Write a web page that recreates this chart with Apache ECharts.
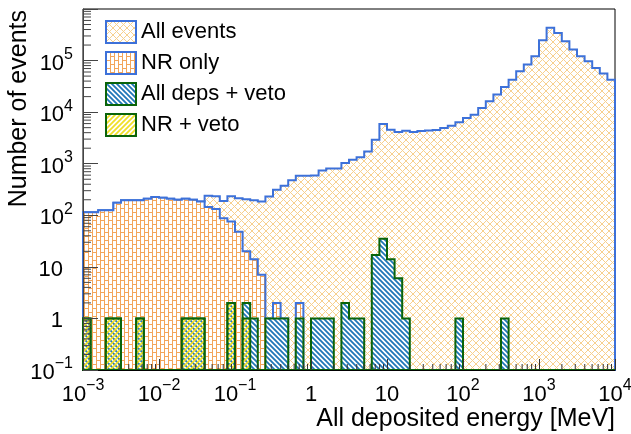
<!DOCTYPE html>
<html>
<head>
<meta charset="utf-8">
<title>Deposited energy</title>
<script src="https://cdn.jsdelivr.net/npm/echarts@6/dist/echarts.min.js"></script>
<style>
  html, body { margin: 0; padding: 0; background: #fff; }
  #chart { width: 631px; height: 434px; }
</style>
</head>
<body>
<div id="chart"></div>
<script>
// Histogram binning: 10 log bins per decade, 1e-3 .. 1e4 MeV
var logEmin = -3;
var binsPerDecade = 10;
var nBins = 70;

// Bin contents, one value per bin
var allEvents = [
  115, 115, 125, 125, 175, 195, 195, 195, 210, 225,
  220, 210, 200, 210, 200, 185, 240, 235, 190, 235,
  215, 205, 195, 185, 232, 312, 374, 480, 585, 585,
  590, 741, 805, 810, 1030, 1196, 1330, 1734, 2924, 5900,
  4570, 4120, 4370, 4120, 4300, 4400, 4500, 4930, 5470, 6340,
  7710, 8940, 12000, 16200, 21900, 30800, 42700, 62000, 83500, 121000,
  248000, 431000, 344000, 237000, 164000, 121000, 97000, 72100, 56000, 42700
];
var nrOnly = [
  115, 115, 125, 125, 175, 195, 195, 195, 210, 225,
  220, 210, 200, 210, 200, 185, 144, 132, 88, 76,
  48, 20, 14, 7, 1, 2, 1, 0, 2, 0,
  0, 0, 0, 0, 0, 0, 0, 0, 0, 0,
  0, 0, 0, 0, 0, 0, 0, 0, 0, 0,
  0, 0, 0, 0, 0, 0, 0, 0, 0, 0,
  0, 0, 0, 0, 0, 0, 0, 0, 0, 0
];
var allDepsVeto = [
  1, 0, 0, 1, 1, 0, 0, 1, 0, 0,
  0, 0, 0, 1, 1, 1, 0, 0, 0, 2,
  0, 2, 1, 0, 1, 1, 1, 0, 1, 0,
  1, 1, 1, 0, 2, 1, 1, 0, 17, 35,
  14, 6, 1, 0, 0, 0, 0, 0, 0, 1,
  0, 0, 0, 0, 0, 1, 0, 0, 0, 0,
  0, 0, 0, 0, 0, 0, 0, 0, 0, 0
];
var nrVeto = [
  1, 0, 0, 1, 1, 0, 0, 1, 0, 0,
  0, 0, 0, 1, 1, 1, 0, 0, 0, 2,
  0, 1, 0, 0, 0, 0, 0, 0, 0, 0,
  0, 0, 0, 0, 0, 0, 0, 0, 0, 0,
  0, 0, 0, 0, 0, 0, 0, 0, 0, 0,
  0, 0, 0, 0, 0, 0, 0, 0, 0, 0,
  0, 0, 0, 0, 0, 0, 0, 0, 0, 0
];
var seriesNames = ['All events', 'NR only', 'All deps + veto', 'NR + veto'];

// axis ranges
var xMin = 1e-3, xMax = 1e4;
var yMin = 0.1, yMax = 1e6;

var binEdges = [];
for (var i = 0; i <= nBins; i++) {
  binEdges.push(Math.pow(10, logEmin + i / binsPerDecade));
}

// minor tick positions (2..9 x 10^k)
var xMinorTicks = [], yMinorTicks = [];
for (var k = -3; k < 4; k++) {
  for (var m = 2; m <= 9; m++) xMinorTicks.push([m * Math.pow(10, k), yMin]);
}
for (var k2 = -1; k2 < 6; k2++) {
  for (var m2 = 2; m2 <= 9; m2++) yMinorTicks.push([xMin, m2 * Math.pow(10, k2)]);
}

var FONT = '"Liberation Sans", Arial, Helvetica, sans-serif';
var BLUE_LINE = '#3d71d9';
var GREEN_LINE = '#0a640a';

// build a repeating fill pattern from a small canvas tile
function makePattern(w, h, bg, draw) {
  var c = document.createElement('canvas');
  c.width = w;
  c.height = h;
  var ctx = c.getContext('2d');
  if (bg) {
    ctx.fillStyle = bg;
    ctx.fillRect(0, 0, w, h);
  }
  draw(ctx, w, h);
  return { image: c, repeat: 'repeat' };
}

var crossFill = makePattern(7, 7, null, function (ctx, w, h) {
  ctx.strokeStyle = '#f7d08e';
  ctx.lineWidth = 1;
  ctx.beginPath();
  ctx.moveTo(0, 0); ctx.lineTo(w, h);
  ctx.moveTo(w, 0); ctx.lineTo(0, h);
  ctx.stroke();
});

var brickFill = makePattern(8, 8, '#ffffff', function (ctx) {
  ctx.strokeStyle = '#f3a55a';
  ctx.lineWidth = 1;
  ctx.beginPath();
  ctx.moveTo(0.5, 0); ctx.lineTo(0.5, 8);
  ctx.moveTo(4.5, 0); ctx.lineTo(4.5, 8);
  ctx.moveTo(0, 0.5); ctx.lineTo(4.5, 0.5);
  ctx.moveTo(4.5, 4.5); ctx.lineTo(8, 4.5);
  ctx.stroke();
});

var blueStripeFill = makePattern(5, 5, '#ffffff', function (ctx, w) {
  ctx.strokeStyle = '#2077b8';
  ctx.lineWidth = 1.8;
  ctx.beginPath();
  [-w, 0, w].forEach(function (c) {
    ctx.moveTo(-1, -1 + c); ctx.lineTo(w + 1, w + 1 + c);
  });
  ctx.stroke();
});

var yellowStripeFill = makePattern(5, 5, null, function (ctx, w) {
  ctx.strokeStyle = '#f0df2a';
  ctx.lineWidth = 1.8;
  ctx.beginPath();
  [0, w, 2 * w].forEach(function (c) {
    ctx.moveTo(-1, c + 1); ctx.lineTo(w + 1, c - w - 1);
  });
  ctx.stroke();
});

// step histogram outline + fill, every corner placed through the axes
function histRenderer(values, fill, stroke) {
  return function (params, api) {
    var pts = [];
    pts.push(api.coord([binEdges[0], yMin]));
    for (var b = 0; b < values.length; b++) {
      var v = Math.max(values[b], yMin);
      pts.push(api.coord([binEdges[b], v]));
      pts.push(api.coord([binEdges[b + 1], v]));
    }
    pts.push(api.coord([binEdges[values.length], yMin]));
    return {
      type: 'polygon',
      shape: { points: pts },
      style: { fill: fill, stroke: stroke, lineWidth: 2, lineJoin: 'miter' }
    };
  };
}

function histSeries(name, values, fill, stroke) {
  return {
    name: name,
    type: 'custom',
    silent: true,
    data: [[binEdges[0], yMin]],
    itemStyle: { color: fill, borderColor: stroke, borderWidth: 2 },
    renderItem: histRenderer(values, fill, stroke)
  };
}

function powLabel(v, isY) {
  var e = Math.round(Math.log10(v));
  if (isY && e >= 6) return '';
  if (e === 0) return isY ? '{b|1}{sp|}' : '{b|1}';
  if (e === 1) return isY ? '{b|10}{sp|}' : '{b|10}';
  return '{b|10}{s|' + (e < 0 ? '\u2212' : '') + Math.abs(e) + '}';
}

var labelRich = {
  b: { fontSize: 22, fontFamily: FONT, color: '#000', lineHeight: 28, verticalAlign: 'bottom' },
  s: { fontSize: 16, fontFamily: FONT, color: '#000', lineHeight: 16, verticalAlign: 'top' },
  sp: { width: 10 }
};

var dom = document.getElementById('chart');
var myChart = echarts.init(dom, null, { renderer: 'canvas' });

var option = {
  animation: false,
  backgroundColor: '#fff',
  grid: {
    left: 83, right: 16, top: 9, bottom: 64,
    show: true, borderColor: '#000', borderWidth: 1,
    backgroundColor: 'transparent',
    outerBoundsMode: 'none',
    containLabel: false
  },
  legend: {
    orient: 'vertical',
    left: 105, top: 20,
    padding: 0,
    itemWidth: 30, itemHeight: 22, itemGap: 7,
    icon: 'rect',
    selectedMode: false,
    textStyle: { fontSize: 22, fontFamily: FONT, color: '#000' },
    data: [
      { name: seriesNames[0], itemStyle: { color: crossFill, borderColor: BLUE_LINE, borderWidth: 2 } },
      { name: seriesNames[1], itemStyle: { color: brickFill, borderColor: BLUE_LINE, borderWidth: 2 } },
      { name: seriesNames[2], itemStyle: { color: blueStripeFill, borderColor: GREEN_LINE, borderWidth: 2 } },
      { name: seriesNames[3], itemStyle: { color: yellowStripeFill, borderColor: GREEN_LINE, borderWidth: 2 } }
    ]
  },
  xAxis: {
    type: 'log', logBase: 10, min: xMin, max: xMax, z: 10,
    axisLine: { show: true, lineStyle: { color: '#000', width: 1 } },
    axisTick: { show: true, inside: true, length: 11, lineStyle: { color: '#333' } },
    splitLine: { show: false },
    axisLabel: {
      margin: 8, showMinLabel: true, showMaxLabel: true,
      formatter: function (v) { return powLabel(v, false); },
      rich: labelRich
    }
  },
  yAxis: {
    type: 'log', logBase: 10, min: yMin, max: yMax, z: 10,
    axisLine: { show: true, lineStyle: { color: '#444', width: 1 } },
    axisTick: { show: true, inside: true, length: 15, lineStyle: { color: '#444' } },
    splitLine: { show: false },
    axisLabel: {
      margin: 10, showMinLabel: true, showMaxLabel: true,
      formatter: function (v) { return powLabel(v, true); },
      rich: labelRich
    }
  },
  graphic: [
    {
      type: 'text', x: 19, y: 10, rotation: Math.PI / 2, z: 20,
      style: { text: 'Number of events', font: '25px ' + FONT, fill: '#000', align: 'right', verticalAlign: 'middle' }
    },
    {
      type: 'text', x: 615, y: 419, z: 20,
      style: { text: 'All deposited energy [MeV]', font: '25px ' + FONT, fill: '#000', align: 'right', verticalAlign: 'middle' }
    }
  ],
  series: [
    histSeries(seriesNames[0], allEvents, crossFill, BLUE_LINE),
    histSeries(seriesNames[1], nrOnly, brickFill, BLUE_LINE),
    histSeries(seriesNames[2], allDepsVeto, blueStripeFill, GREEN_LINE),
    histSeries(seriesNames[3], nrVeto, yellowStripeFill, GREEN_LINE),
    {
      type: 'custom', silent: true, z: 11, data: xMinorTicks,
      renderItem: function (params, api) {
        var p = api.coord([api.value(0), yMin]);
        return { type: 'line', shape: { x1: p[0], y1: p[1], x2: p[0], y2: p[1] - 6 }, style: { stroke: '#333', lineWidth: 1 } };
      }
    },
    {
      type: 'custom', silent: true, z: 11, data: yMinorTicks,
      renderItem: function (params, api) {
        var p = api.coord([xMin, api.value(1)]);
        return { type: 'line', shape: { x1: p[0], y1: p[1], x2: p[0] + 8, y2: p[1] }, style: { stroke: '#444', lineWidth: 1 } };
      }
    }
  ]
};

if (option && typeof option === 'object') {
  myChart.setOption(option, true);
}
</script>
</body>
</html>
